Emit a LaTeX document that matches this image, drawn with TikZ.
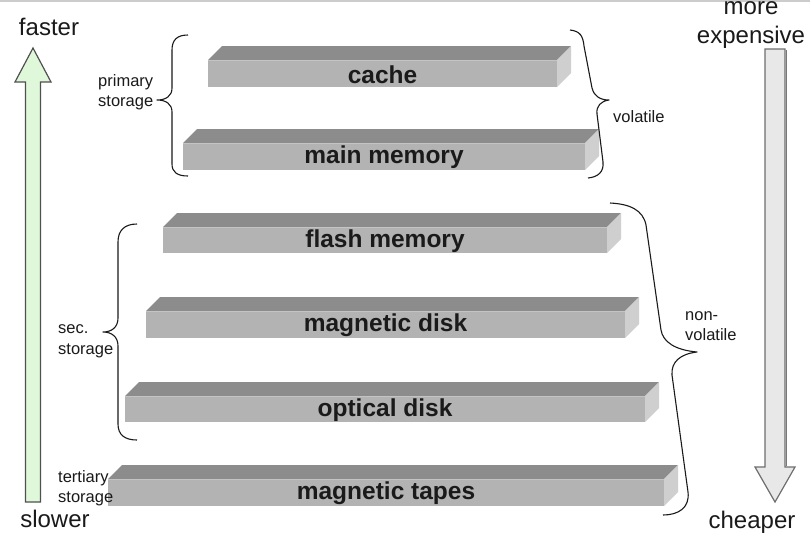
\documentclass[tikz,border=0pt]{standalone}
\usepackage{fontspec}
\setmainfont{Liberation Sans}
\definecolor{slabtop}{HTML}{8C8C8C}
\definecolor{slabfront}{HTML}{B3B3B3}
\definecolor{slabside}{HTML}{CFCFCF}
\definecolor{slabedge}{HTML}{C4C4C4}
\definecolor{greenfill}{HTML}{E0F8DA}
\definecolor{grayfill}{HTML}{E8E8E8}
\definecolor{inkc}{HTML}{1A1A1A}
\tikzset{
  slabface/.style={fill=slabfront, inner sep=0pt, outer sep=0pt,
    font=\fontsize{24.5}{28}\selectfont\bfseries, text=inkc},
  biglabel/.style={font=\fontsize{24}{29}\selectfont, text=inkc, inner sep=0pt},
  smalllabel/.style={font=\fontsize{16.5}{20.5}\selectfont, text=inkc, inner sep=0pt, align=left},
  bracepath/.style={draw=inkc, line width=1.1pt, line join=round},
}
\newcommand\slabdraw[6]{%
  \fill[slabfront] (#2,#4) rectangle (#3,#5);
  \node[slabface, fill=none, minimum width={#3-#2}, minimum height={#5-#4}] (#1) at ({(#2+#3)/2},{(#4+#5)/2+1}) {#6};
  \fill[slabtop] (#2,#4) -- (#2+14,#4-14) -- (#3+14,#4-14) -- (#3,#4) -- cycle;
  \fill[slabside] (#3,#4) -- (#3+14,#4-14) -- (#3+14,#5-14) -- (#3,#5) -- cycle;
  \draw[slabedge, line width=0.8pt] (#2,#4) -- (#3,#4);
}
\begin{document}
\begin{tikzpicture}[x=1pt, y=-1pt]
\useasboundingbox[fill=white] (0,0) rectangle (810,558);
\draw[color={rgb,255:red,204;green,204;blue,204}, line width=1.5pt] (0,0.75) -- (810,0.75);

% slabs
\slabdraw{cache}{208}{557}{60}{87}{cache}
\slabdraw{mainmem}{183}{585}{143}{170}{main memory}
\slabdraw{flash}{163}{607}{227}{253}{flash memory}
\slabdraw{mdisk}{146}{625}{311}{338}{magnetic disk}
\slabdraw{odisk}{125}{645}{396}{422}{optical disk}
\slabdraw{tapes}{108}{664}{479}{506}{magnetic tapes}

% left arrow (faster/slower)
\draw[draw={rgb,255:red,80;green,80;blue,80}, fill=greenfill, line width=1.2pt, line join=miter]
  (25.5,502) -- (25.5,82) -- (15,82) -- (33,48) -- (51,82) -- (40.5,82) -- (40.5,502) -- cycle;
% right arrow (more expensive/cheaper)
\draw[draw={rgb,255:red,110;green,110;blue,110}, fill=grayfill, line width=1.2pt, line join=miter]
  (765,49) -- (785,49) -- (785,467) -- (795,467) -- (775,502) -- (755,467) -- (765,467) -- cycle;
\draw[draw={rgb,255:red,120;green,120;blue,120}, line width=1.2pt] (786.2,50) -- (786.2,466);

% big labels
\node[biglabel, anchor=base] (faster) at (49,35) {faster};
\node[biglabel, anchor=base] (slower) at (55,527) {slower};
\node[biglabel, anchor=base] (more) at (751,14) {more};
\node[biglabel, anchor=base] (expensive) at (751,43) {expensive};
\node[biglabel, anchor=base] (cheaper) at (752,528) {cheaper};

% small labels
\node[smalllabel, anchor=base west] (primary) at (98,86) {primary};
\node[smalllabel, anchor=base west] (primarys) at (98,106) {storage};
\node[smalllabel, anchor=base west] (volatile) at (613,122) {volatile};
\node[smalllabel, anchor=base west] (nonv1) at (685,320) {non-};
\node[smalllabel, anchor=base west] (nonv2) at (685,340) {volatile};
\node[smalllabel, anchor=base west] (sec1) at (58,333) {sec.};
\node[smalllabel, anchor=base west] (sec2) at (58,354) {storage};
\node[smalllabel, anchor=base west] (ter1) at (58,482) {tertiary};
\node[smalllabel, anchor=base west] (ter2) at (58,502) {storage};

% braces
\draw[bracepath] (188,35) .. controls (177,35) and (172,40) .. (172,50) -- (172,88)
  .. controls (172,96) and (166,100) .. (157,100)
  .. controls (166,100) and (172,104) .. (172,112) -- (172,164)
  .. controls (172,172) and (177,176) .. (188,176);
\draw[bracepath] (570,30) .. controls (580,31) and (583,36) .. (584,46) -- (592,88)
  .. controls (594,96) and (600,100) .. (609,100)
  .. controls (601,101) and (596,106) .. (597,114) -- (603,162)
  .. controls (604,172) and (598,177) .. (588,178);
\draw[bracepath] (610,203) .. controls (630,204) and (643,210) .. (646,225) -- (661,330)
  .. controls (663,342) and (675,350) .. (697,352)
  .. controls (680,354) and (671,362) .. (672,375) -- (688,492)
  .. controls (690,508) and (678,515) .. (663,515);
\draw[bracepath] (137,224) .. controls (125,224) and (118,230) .. (118,242) -- (118,318)
  .. controls (118,327) and (112,332) .. (103,332)
  .. controls (112,332) and (118,337) .. (118,346) -- (118,424)
  .. controls (118,435) and (125,440) .. (137,440);
\end{tikzpicture}
\end{document}
